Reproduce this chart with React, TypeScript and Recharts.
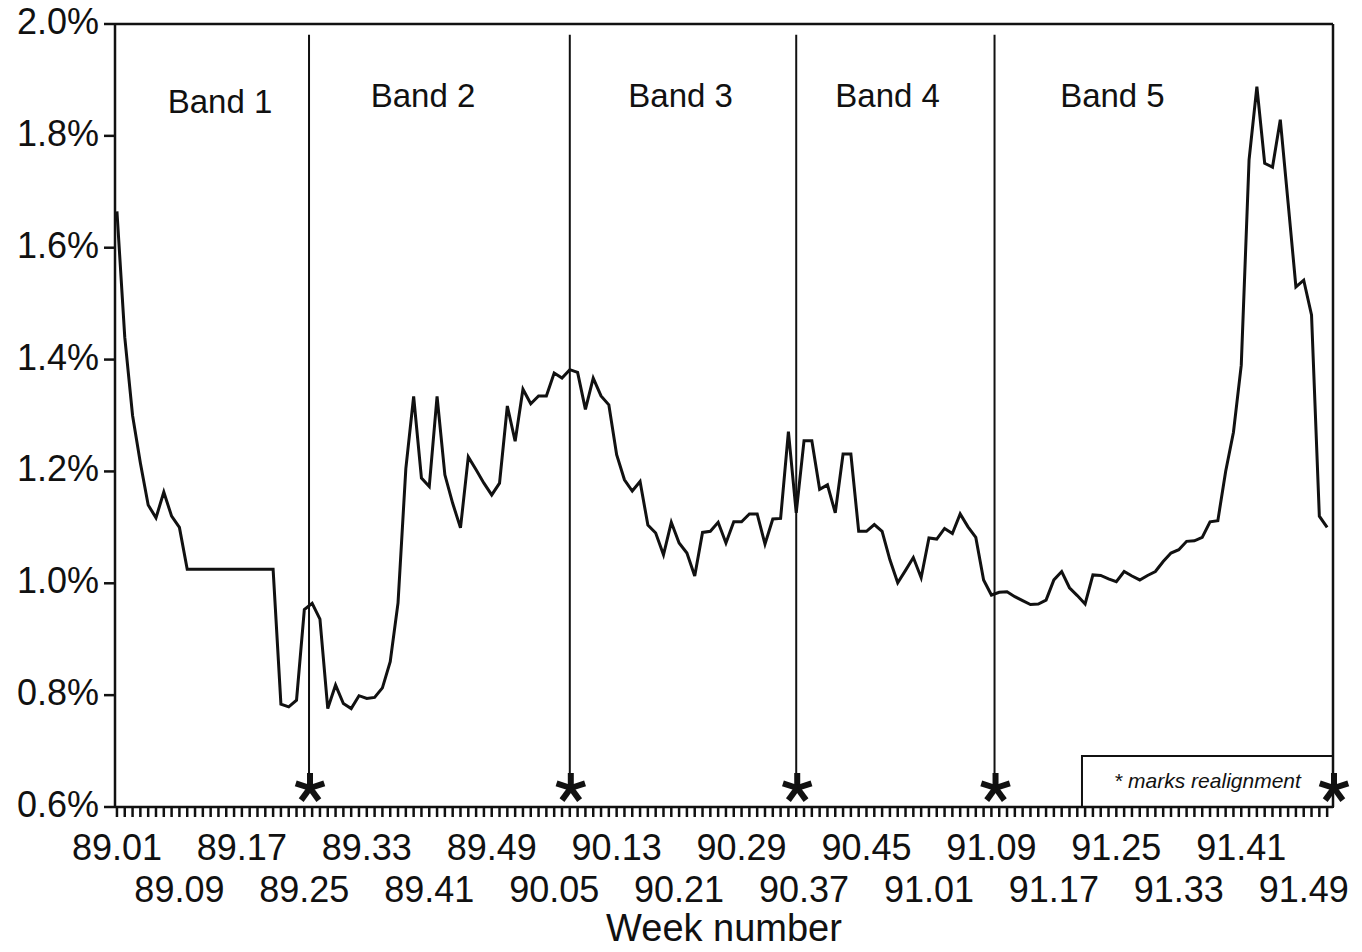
import { LineChart, Line, XAxis, YAxis, ReferenceLine, ReferenceDot, ReferenceArea } from "recharts"

const ink = "#111"
const font = "'Liberation Sans', Arial, Helvetica, sans-serif"

// weekly share, 89.01 .. 91.52
const years = [89, 90, 91]
const share = [
  1.665, 1.44, 1.3, 1.215, 1.14, 1.117, 1.163, 1.12, 1.1,
  1.025, 1.025, 1.025, 1.025, 1.025, 1.025, 1.025, 1.025, 1.025, 1.025, 1.025, 1.025,
  0.784, 0.779, 0.791, 0.953, 0.964, 0.936, 0.776, 0.818, 0.785, 0.776, 0.799, 0.794, 0.796, 0.813, 0.86, 0.965, 1.205,
  1.334, 1.188, 1.173, 1.334, 1.194, 1.143, 1.099, 1.226, 1.203, 1.179, 1.158, 1.179, 1.317, 1.254, 1.347, 1.321, 1.335, 1.335, 1.376, 1.367, 1.382,
  1.377, 1.311, 1.367, 1.335, 1.319, 1.23, 1.185, 1.165, 1.182, 1.104, 1.09, 1.051, 1.109, 1.072, 1.054, 1.013, 1.091, 1.093, 1.109,
  1.072, 1.11, 1.11, 1.124, 1.124, 1.07, 1.115, 1.116, 1.271, 1.126, 1.255, 1.255, 1.168, 1.176, 1.126, 1.231, 1.231, 1.093, 1.093, 1.105, 1.093,
  1.042, 1.001, 1.023, 1.046, 1.01, 1.081, 1.079, 1.098, 1.089, 1.124, 1.101, 1.082, 1.006, 0.979, 0.984, 0.985, 0.976, 0.969,
  0.962, 0.963, 0.97, 1.006, 1.021, 0.992, 0.978, 0.963, 1.015, 1.014, 1.008, 1.003, 1.021, 1.013, 1.006, 1.014, 1.021, 1.039, 1.054, 1.06,
  1.075, 1.076, 1.082, 1.11, 1.112, 1.2, 1.27, 1.39, 1.757, 1.888, 1.751, 1.744, 1.829, 1.68, 1.53, 1.542, 1.48, 1.12, 1.1,
]

const yTicks = [0.6, 0.8, 1.0, 1.2, 1.4, 1.6, 1.8, 2.0]
const bandNames = ["Band 1", "Band 2", "Band 3", "Band 4", "Band 5"]
const bandLabelAt = [13.2, 39.2, 72.2, 98.7, 127.5]
const bandLabelLevel = [1.8415, 1.852, 1.852, 1.852, 1.852]
const realignAt = [24.6, 58, 87, 112.4]
const lastWeek = 155.75

const weekLabels = years.flatMap((y) =>
  Array.from({ length: 52 }, (_, w) => `${y}.${String(w + 1).padStart(2, "0")}`)
)
const data = share.map((v, i) => ({ i, week: weekLabels[i], v }))
const xTicks = data.map((d) => d.i)

// eslint-disable-next-line @typescript-eslint/no-explicit-any
const WeekTick = ({ x, y, payload }: any) => {
  const i = payload.value
  if (i % 8 !== 0) return <g />
  const row = (i / 8) % 2
  return (
    <text x={x} y={y + (row ? 83 : 41)} textAnchor="middle" fontSize={36} fill={ink} fontFamily={font}>
      {weekLabels[i]}
    </text>
  )
}

// eslint-disable-next-line @typescript-eslint/no-explicit-any
const PctTick = ({ x, y, payload }: any) => (
  <text x={x - 3} y={y + 10} textAnchor="end" fontSize={36} fill={ink} fontFamily={font}>
    {payload.value.toFixed(1)}%
  </text>
)

// five-armed realignment mark sitting on the axis
// eslint-disable-next-line @typescript-eslint/no-explicit-any
const Star = ({ cx, cy }: any) => {
  const sx = cx + 1
  const sy = cy - 19
  return (
    <g>
      {[-90, -18, 54, 126, 198].map((a) => {
        const r = (a * Math.PI) / 180
        return (
          <line
            key={a}
            x1={sx}
            y1={sy}
            x2={sx + Math.cos(r) * 15}
            y2={sy + Math.sin(r) * 15}
            stroke={ink}
            strokeWidth={6}
          />
        )
      })}
    </g>
  )
}

export default function App() {
  return (
    <div style={{ position: "absolute", left: 0, top: 0, background: "#fff" }}>
      <LineChart width={1362} height={952} data={data} margin={{ top: 24, right: 29, bottom: 0, left: 0 }}>
        <XAxis
          dataKey="i"
          type="number"
          domain={[-0.25, lastWeek]}
          ticks={xTicks}
          interval={0}
          tick={<WeekTick />}
          tickSize={10}
          stroke={ink}
          strokeWidth={2.5}
          height={145}
          label={{
            // eslint-disable-next-line @typescript-eslint/no-explicit-any
            content: ({ viewBox }: any) => (
              <text x={viewBox.x + viewBox.width / 2} y={viewBox.y + 134} textAnchor="middle" fontSize={38} fill={ink} fontFamily={font}>
                Week number
              </text>
            ),
          }}
        />
        <YAxis
          type="number"
          domain={[0.6, 2.0]}
          ticks={yTicks}
          interval={0}
          tick={<PctTick />}
          tickSize={11}
          stroke={ink}
          strokeWidth={2.5}
          width={115}
        />
        <ReferenceLine y={2.0} stroke={ink} strokeWidth={2.5} />
        <ReferenceLine x={lastWeek} stroke={ink} strokeWidth={2.5} />
        {realignAt.map((x) => (
          <ReferenceLine key={x} segment={[{ x, y: 1.981 }, { x, y: 0.66 }]} stroke={ink} strokeWidth={2} />
        ))}
        {bandNames.map((name, k) => (
          <ReferenceDot
            key={name}
            x={bandLabelAt[k]}
            y={bandLabelLevel[k]}
            r={0}
            // eslint-disable-next-line @typescript-eslint/no-explicit-any
            shape={({ cx, cy }: any) => (
              <text x={cx} y={cy} textAnchor="middle" fontSize={33} fill={ink} fontFamily={font}>
                {name}
              </text>
            )}
          />
        ))}
        <ReferenceArea
          x1={123.6}
          x2={lastWeek}
          y1={0.6}
          y2={0.691}
          fill="#fff"
          fillOpacity={1}
          stroke={ink}
          strokeWidth={2}
          label={{
            // eslint-disable-next-line @typescript-eslint/no-explicit-any
            content: ({ viewBox }: any) => (
              <text x={viewBox.x + viewBox.width / 2} y={viewBox.y + 32} textAnchor="middle" fontSize={21} fontStyle="italic" fill={ink} fontFamily={font}>
                * marks realignment
              </text>
            ),
          }}
        />
        <Line type="linear" dataKey="v" stroke={ink} strokeWidth={3} dot={false} isAnimationActive={false} />
        {[...realignAt, lastWeek].map((x) => (
          <ReferenceDot key={`s${x}`} x={x} y={0.6} r={0} ifOverflow="visible" shape={<Star />} />
        ))}
      </LineChart>
    </div>
  )
}
